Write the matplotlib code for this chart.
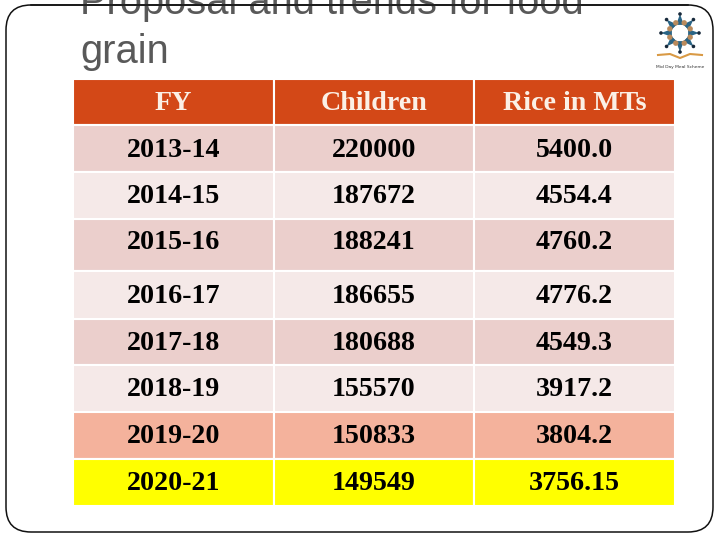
#!/usr/bin/env python

import numpy as np
import matplotlib
matplotlib.use('AGG')
import matplotlib.pyplot as plt
from matplotlib.patches import FancyBboxPatch, Circle, Polygon

# table contents
columns = ["FY", "Children", "Rice in MTs"]
years = ["2013-14", "2014-15", "2015-16", "2016-17", "2017-18", "2018-19", "2019-20", "2020-21"]
children = ["220000", "187672", "188241", "186655", "180688", "155570", "150833", "149549"]
rice = ["5400.0", "4554.4", "4760.2", "4776.2", "4549.3", "3917.2", "3804.2", "3756.15"]
row_colors = ["#ebcfcc", "#f5e9e8", "#ebcfcc", "#f5e9e8", "#ebcfcc", "#f5e9e8", "#f4b29c", "#ffff00"]

W, H = 720, 540
# row edges in pixels, header first
edges_y = [79, 125, 172, 219, 271, 319, 365, 412, 459, 506]
col_edges = [73, 274, 474, 675]
# text does not sit quite centred in the rows of the original
text_y = [103, 150.5, 196.5, 242.5, 296.5, 343.5, 389.5, 436.5, 483.5]

fig = plt.figure(figsize=(7.2, 5.4), dpi=100)
ax = fig.add_axes([0, 0, 1, 1])
ax.set_xlim(0, W)
ax.set_ylim(H, 0)
ax.axis('off')

# slide frame
r = 25
left, top, right, bottom = 6, 5, 713, 532
ax.add_patch(FancyBboxPatch((left + r, top + r), right - left - 2 * r, bottom - top - 2 * r,
                            boxstyle="round,pad=%d,rounding_size=%d" % (r, r),
                            fc='white', ec='#111111', lw=1.1, zorder=1))

# title, first line runs off the top of the slide
title_kw = dict(family='Liberation Sans', fontsize=28.7, color='#595959', va='baseline', zorder=2)
ax.text(80, 14, "Proposal and trends for food", **title_kw)
ax.text(80, 63, "grain", **title_kw)
# frame line shows through the title
ax.plot([left + r, right - r], [top, top], color='#111111', lw=1.1, zorder=3)

# table
rows = [columns] + [[y, c, v] for y, c, v in zip(years, children, rice)]
bbox = [col_edges[0] / W, 1 - edges_y[-1] / H, (col_edges[-1] - col_edges[0]) / W, (edges_y[-1] - edges_y[0]) / H]
tab = ax.table(cellText=[[''] * 3 for _ in rows], bbox=bbox, zorder=4)
for (row, col), cell in tab.get_celld().items():
    cell.set_width((col_edges[col + 1] - col_edges[col]) / W)
    cell.set_height((edges_y[row + 1] - edges_y[row]) / H)
    cell.set_edgecolor('white')
    cell.set_linewidth(1.5)
    cell.set_facecolor('#d34817' if row == 0 else row_colors[row - 1])
    ax.text((col_edges[col] + col_edges[col + 1]) / 2, text_y[row], rows[row][col],
            family='Liberation Serif', fontweight='bold', fontsize=20.2,
            color='#fbf0e6' if row == 0 else 'black', ha='center', va='center', zorder=5)

# logo, ring of people over an open book
cx, cy = 680, 33
for i in range(8):
    a = np.pi / 2 + i * np.pi / 4
    p1 = (cx + 19 * np.cos(a), cy - 19 * np.sin(a))
    p2 = (cx + 9 * np.cos(a - 0.45), cy - 9 * np.sin(a - 0.45))
    p3 = (cx + 9 * np.cos(a + 0.45), cy - 9 * np.sin(a + 0.45))
    ax.add_patch(Polygon([p1, p2, p3], fc='#2a6485', ec='none', zorder=2))
    ax.add_patch(Circle(p1, 1.8, fc='#16283a', ec='none', zorder=3))
ax.add_patch(Circle((cx, cy), 8, fc='white', ec='none', zorder=3))
for i in range(8):
    a = np.pi / 8 + i * np.pi / 4
    ax.add_patch(Circle((cx + 11 * np.cos(a), cy - 11 * np.sin(a)), 2.7, fc='#b98a5c', ec='none', zorder=4))
ax.plot([658, 670, 680, 690, 702], [55, 54, 58, 54, 55], color='#d99a45', lw=1.5, zorder=3)
ax.text(cx, 67, "Mid Day Meal Scheme", family='DejaVu Sans', fontsize=3.2, color='#333333', ha='center', va='center')

plt.savefig('out.png', dpi=100)
